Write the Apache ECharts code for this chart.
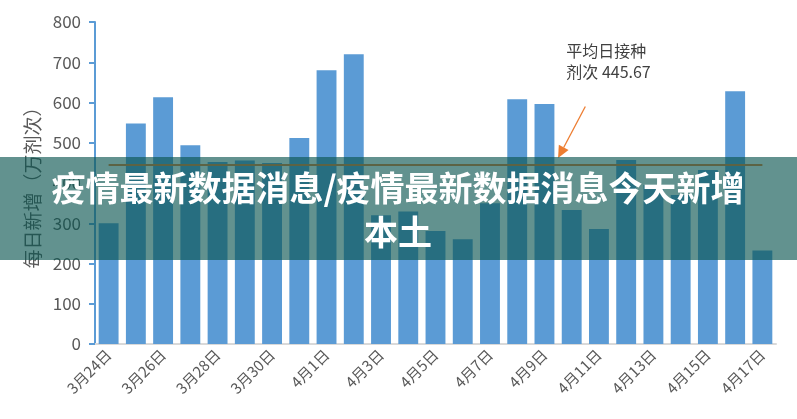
<!DOCTYPE html>
<html><head><meta charset="utf-8">
<script src="https://cdn.jsdelivr.net/npm/echarts@6/dist/echarts.min.js"></script>
<style>html,body{margin:0;padding:0;background:#fff;}#c{width:797px;height:419px;}</style>
</head><body><div id="c"></div>
<script>
const categories = ['3月24日','3月25日','3月26日','3月27日','3月28日','3月29日','3月30日','3月31日','4月1日','4月2日','4月3日','4月4日','4月5日','4月6日','4月7日','4月8日','4月9日','4月10日','4月11日','4月12日','4月13日','4月14日','4月15日','4月16日','4月17日'];
const dailyDoses = [300,548,613,494,452,456,450,512,680,720,320,329,281,260,350,608,596,333,286,457,395,370,432,628,232];
const averageValue = 445.67;
const yTicks = [0,100,200,300,400,500,600,700,800];
const annotationLines = ['平均日接种', '剂次 445.67'];
const bannerLines = ['疫情最新数据消息/疫情最新数据消息今天新增', '本土'];

const FONT = '"Noto Sans CJK SC", "Noto Sans", sans-serif';
const chart = echarts.init(document.getElementById('c'), null, {renderer:'canvas'});
chart.setOption({
  animation:false,
  grid:{left:95, right:21, top:22, bottom:75},
  xAxis:{
    type:'category', data:categories, boundaryGap:true,
    axisLine:{lineStyle:{color:'#d9d9d9', width:2}},
    axisTick:{interval:1, length:5, lineStyle:{color:'#d9d9d9', width:2}},
    axisLabel:{interval:1, rotate:45, fontSize:15, color:'#595959', fontFamily:FONT, margin:8}
  },
  yAxis:{
    type:'value', min:yTicks[0], max:yTicks[yTicks.length-1], interval:100,
    name:'每日新增（万剂次）', nameLocation:'middle', nameGap:50, nameRotate:90,
    nameTextStyle:{fontSize:19, color:'#595959', fontFamily:FONT},
    axisLine:{show:true, lineStyle:{color:'#5b9bd5', width:2}},
    axisTick:{show:true, length:6, lineStyle:{color:'#5b9bd5', width:2}},
    axisLabel:{fontSize:17, color:'#595959', fontFamily:FONT, margin:14},
    splitLine:{show:false}
  },
  series:[{
    type:'bar', data:dailyDoses, barCategoryGap:'27%',
    itemStyle:{color:'#5b9bd5'},
    markLine:{
      silent:true, symbol:['none','none'],
      lineStyle:{color:'#ed7d31', width:2, type:'solid'},
      label:{show:false},
      data:[[{coord:[categories[0], averageValue]},{coord:[categories[categories.length-1], averageValue]}]]
    }
  }]
});

// annotation arrow positioned through the chart's own scales
const pA = chart.convertToPixel({gridIndex:0}, [16, averageValue]);
const pB = chart.convertToPixel({gridIndex:0}, [17, averageValue]);
const band = pB[0]-pA[0];
const tip = [ (pA[0]+pB[0])/2, chart.convertToPixel({gridIndex:0},[0, 462])[1] ];
const startPt = [ pB[0]+band/2, chart.convertToPixel({gridIndex:0},[0, 590])[1] ];
const ang = Math.atan2(tip[1]-startPt[1], tip[0]-startPt[0]);
const L = 12, W = 5.5;
const base = [tip[0]-L*Math.cos(ang), tip[1]-L*Math.sin(ang)];
const head = [tip,
  [base[0]+W*Math.sin(ang), base[1]-W*Math.cos(ang)],
  [base[0]-W*Math.sin(ang), base[1]+W*Math.cos(ang)]];

chart.setOption({
  graphic:[
    {type:'line', z:50, shape:{x1:startPt[0], y1:startPt[1], x2:base[0], y2:base[1]}, style:{stroke:'#ed7d31', lineWidth:1.3}},
    {type:'polygon', z:50, shape:{points:head}, style:{fill:'#ed7d31'}},
    {type:'text', z:50, x:startPt[0]-19, y:startPt[1]-66, style:{text:annotationLines.join('\n'), font:'16px '+FONT, fill:'#404040', lineHeight:21, textAlign:'left', textVerticalAlign:'top'}},
    {type:'rect', z:100, shape:{x:0, y:157, width:797, height:103}, style:{fill:'rgba(10,85,80,0.64)'}},
    {type:'text', z:101, x:398, y:188, style:{text:bannerLines[0], font:'bold 34px '+FONT, fill:'#ffffff', textAlign:'center', textVerticalAlign:'middle'}},
    {type:'text', z:101, x:398, y:232, style:{text:bannerLines[1], font:'bold 34px '+FONT, fill:'#ffffff', textAlign:'center', textVerticalAlign:'middle'}}
  ]
});
</script></body></html>
